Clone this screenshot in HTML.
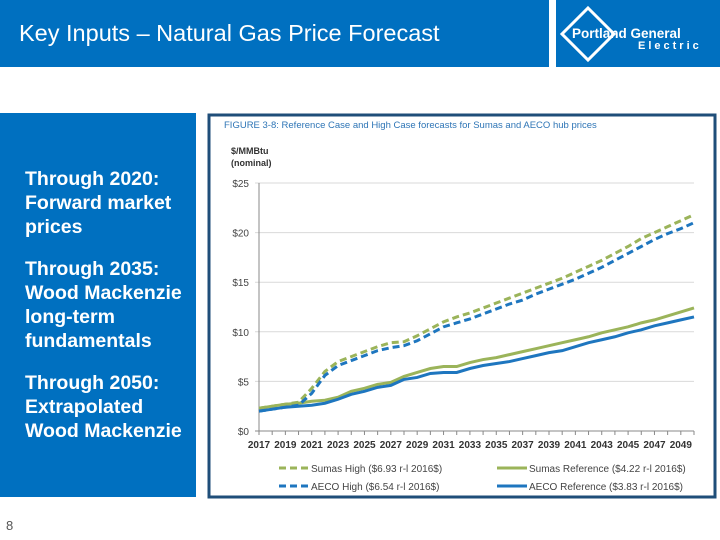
<!DOCTYPE html>
<html><head><meta charset="utf-8"><style>
body{margin:0;width:720px;height:540px;background:#fff;position:relative;overflow:hidden;font-family:"Liberation Sans",sans-serif}
.hdr{position:absolute;left:0;top:0;width:549px;height:67px;background:#0070c0}
.title{position:absolute;left:19px;top:20px;color:#fff;font-size:23.5px}
.logo{position:absolute;left:556px;top:0;width:164px;height:67px;background:#0070c0}
.panel{position:absolute;left:0;top:113px;width:196px;height:384px;background:#0070c0}
.panel p{position:absolute;left:25px;margin:0;color:#fff;font-weight:bold;font-size:19.5px;line-height:24px}
.pg{position:absolute;left:6px;top:518px;font-size:13px;color:#555}
</style></head><body>
<div class="hdr"><div class="title">Key Inputs – Natural Gas Price Forecast</div></div>
<div class="logo">
<svg width="164" height="67">
<polygon points="32,8 58,34 32,60 6,34" fill="none" stroke="#fff" stroke-width="3"/>
<text x="16" y="38" fill="#fff" font-weight="bold" font-size="13.5" font-family="Liberation Sans">Portland General</text>
<text x="82" y="49" fill="#fff" font-weight="bold" font-size="11" letter-spacing="3" font-family="Liberation Sans">Electric</text>
</svg></div>
<div class="panel">
<p style="top:54px">Through 2020:<br>Forward market<br>prices</p>
<p style="top:144px">Through 2035:<br>Wood Mackenzie<br>long-term<br>fundamentals</p>
<p style="top:258px">Through 2050:<br>Extrapolated<br>Wood Mackenzie</p>
</div>
<div class="pg">8</div>
<svg id="chart" style="position:absolute;left:0;top:0" width="720" height="540">
<rect x="209" y="115" width="506" height="382" fill="#fff" stroke="#1f4e79" stroke-width="3"/>
<text x="224" y="128" font-size="9.5" fill="#2e75b6" font-family="Liberation Sans">FIGURE 3-8: Reference Case and High Case forecasts for Sumas and AECO hub prices</text>
<text x="231" y="154" font-size="9" font-weight="bold" fill="#333" font-family="Liberation Sans">$/MMBtu</text>
<text x="231" y="166" font-size="9" font-weight="bold" fill="#333" font-family="Liberation Sans">(nominal)</text>
<g id="grid"></g><g id="series"></g><g id="legend"></g>
</svg>
<script>
const years=[];for(let y=2017;y<=2050;y++)years.push(y);
const yTicks=[0,5,10,15,20,25];
const sumasRef=[2.3,2.5,2.7,2.8,3.0,3.1,3.4,4.0,4.3,4.7,4.9,5.5,5.9,6.3,6.5,6.5,6.9,7.2,7.4,7.7,8.0,8.3,8.6,8.9,9.2,9.5,9.9,10.2,10.5,10.9,11.2,11.6,12.0,12.4];
const aecoRef=[2.0,2.2,2.4,2.5,2.6,2.8,3.2,3.7,4.0,4.4,4.6,5.2,5.4,5.8,5.9,5.9,6.3,6.6,6.8,7.0,7.3,7.6,7.9,8.1,8.5,8.9,9.2,9.5,9.9,10.2,10.6,10.9,11.2,11.5];
const sumasHigh=[2.3,2.5,2.7,2.9,4.3,6.0,7.0,7.5,8.0,8.5,8.9,9.0,9.6,10.3,11.0,11.5,11.9,12.4,12.9,13.4,13.9,14.4,14.9,15.4,16.0,16.6,17.2,17.9,18.6,19.4,20.0,20.6,21.2,21.8];
const aecoHigh=[2.0,2.2,2.4,2.6,3.8,5.6,6.6,7.1,7.6,8.1,8.4,8.6,9.1,9.8,10.5,10.9,11.3,11.8,12.3,12.8,13.2,13.8,14.3,14.8,15.3,15.9,16.5,17.2,17.9,18.6,19.3,19.9,20.4,21.0];
const seriesNames=["Sumas High ($6.93 r-l 2016$)","Sumas Reference ($4.22 r-l 2016$)","AECO High ($6.54 r-l 2016$)","AECO Reference ($3.83 r-l 2016$)"];
const X0=259,X1=694,Y0=431,Y1=183;
const xs=y=>X0+(y-2017)*(X1-X0)/33, ys=v=>Y0-v*(Y0-Y1)/25;
const NS="http://www.w3.org/2000/svg";
function mk(t,a,p){const e=document.createElementNS(NS,t);for(const k in a)e.setAttribute(k,a[k]);p.appendChild(e);return e;}
const g=document.getElementById('grid');
yTicks.forEach(v=>{
 const l=mk('line',{x1:X0-4,x2:X1,y1:ys(v),y2:ys(v),stroke:v?'#d9d9d9':'#888','stroke-width':1},g);
 
 
 const t=mk('text',{x:X0-10,y:ys(v)+4,'text-anchor':'end','font-size':10,fill:'#444','font-family':'Liberation Sans'},g);
 t.textContent='$'+v;
 
 
});
mk('line',{x1:X0,x2:X0,y1:Y1,y2:Y0,stroke:'#888'},g);
years.forEach((y,i)=>{
 mk('line',{x1:xs(y),x2:xs(y),y1:Y0,y2:Y0+4,stroke:'#888'},g);
 if(i%2==0){const t=mk('text',{x:xs(y),y:Y0+17,'text-anchor':'middle','font-size':10,'font-weight':'bold',fill:'#333','font-family':'Liberation Sans'},g);
 t.textContent=y;
 
 }
});
const sg=document.getElementById('series');
const G='#9bb45a',B='#1e76bf';
const defs=[[sumasRef,G,''],[aecoRef,B,''],[sumasHigh,G,'7,4'],[aecoHigh,B,'7,4']];
const nm=['sumas-reference-line','aeco-reference-line','sumas-high-line','aeco-high-line'];
defs.forEach((d,i)=>{
 const p=mk('polyline',{points:d[0].map((v,j)=>xs(years[j])+','+ys(v)).join(' '),fill:'none',stroke:d[1],'stroke-width':3,'stroke-dasharray':d[2]},sg);
 
 
});
const lg=document.getElementById('legend');
const lpos=[[279,468,G,'7,4'],[497,468,G,''],[279,486,B,'7,4'],[497,486,B,'']];
seriesNames.forEach((n,i)=>{
 const [x,y,c,da]=lpos[i];
 mk('line',{x1:x,x2:x+30,y1:y,y2:y,stroke:c,'stroke-width':3,'stroke-dasharray':da},lg);
 const t=mk('text',{x:x+32,y:y+4,'font-size':10,fill:'#444','font-family':'Liberation Sans'},lg);
 t.textContent=n;
 
 
});
</script>
</body></html>
